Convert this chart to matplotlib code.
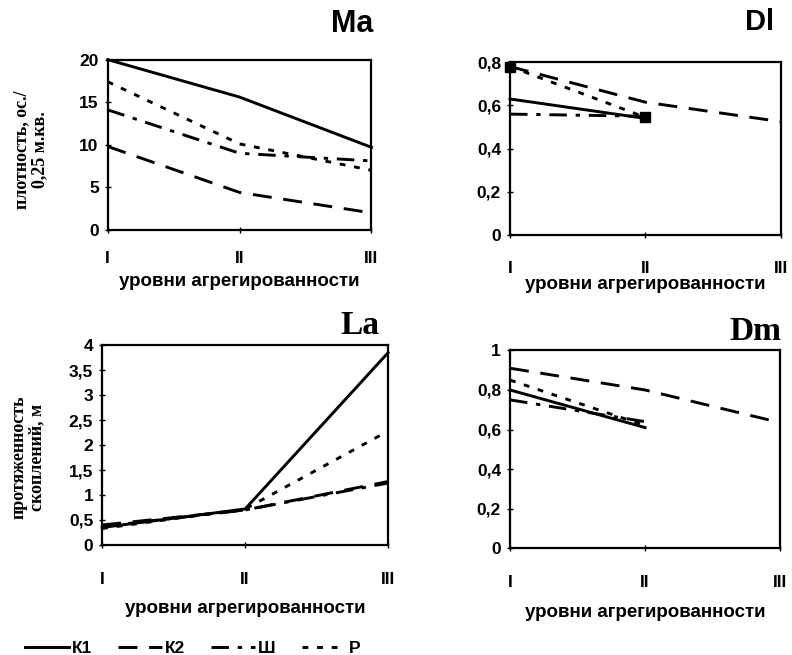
import matplotlib.pyplot as plt

levels = ["I", "II", "III"]
series = ["К1", "К2", "Ш", "Р"]

# Ma - плотность
ma_k1 = [20, 15.6, 9.7]
ma_k2 = [9.8, 4.4, 2.0]
ma_sh = [14.1, 9.0, 8.1]
ma_r = [17.4, 10.1, 7.0]

# Dl (Ш, Р, К1 только до II)
dl_k1 = [0.63, 0.54]
dl_k2 = [0.78, 0.615, 0.525]
dl_sh = [0.56, 0.55]
dl_r = [0.78, 0.545]

# La - протяженность скоплений
la_k1 = [0.35, 0.72, 3.85]
la_k2 = [0.40, 0.70, 1.27]
la_sh = [0.37, 0.70, 1.24]
la_r = [0.33, 0.72, 2.28]

# Dm
dm_k1 = [0.80, 0.61]
dm_k2 = [0.91, 0.80, 0.635]
dm_sh = [0.75, 0.64]
dm_r = [0.85, 0.62]

styles = {
    "К1": dict(color="black", lw=2.1, ls="-"),
    "К2": dict(color="black", lw=2.1, ls=(0, (6.5, 4))),
    "Ш": dict(color="black", lw=2.1, ls=(0, (6, 3, 1.5, 3))),
    "Р": dict(color="black", lw=2.1, ls=(0, (2, 3))),
}

sans = "Liberation Sans"
serif = "Liberation Serif"

fig = plt.figure(figsize=(7.92, 6.55), dpi=100)


def fmt(v):
    return ("%g" % round(v, 2)).replace(".", ",")


def setup(ax, ymax, ystep, xpad, labelpad):
    ax.set_xlim(0, 2)
    ax.set_ylim(0, ymax)
    ax.set_xticks(range(3))
    ax.set_xticklabels(levels, fontfamily=sans, fontweight="bold", fontsize=12.5)
    yt = [i * ystep for i in range(int(round(ymax / ystep)) + 1)]
    ax.set_yticks(yt)
    ax.set_yticklabels([fmt(v) for v in yt], fontfamily=sans, fontweight="bold", fontsize=12.5)
    ax.tick_params(axis="x", direction="inout", length=5, pad=xpad, width=1)
    ax.tick_params(axis="y", direction="inout", length=5, pad=4, width=1)
    for s in ax.spines.values():
        s.set_linewidth(1.6)
    ax.set_xlabel("уровни агрегированности", fontfamily=sans, fontweight="bold",
                  fontsize=13.5, labelpad=labelpad)


def plot_set(ax, data):
    for name, vals in zip(series, data):
        ax.plot(range(len(vals)), vals, label=name, clip_on=False, **styles[name])


ax1 = fig.add_axes([0.136, 0.649, 0.333, 0.26])
plot_set(ax1, [ma_k1, ma_k2, ma_sh, ma_r])
setup(ax1, 20, 5, 13, 5)
ax1.set_ylabel("плотность, ос./\n0,25 м.кв.", fontfamily=serif, fontweight="bold",
               fontsize=13, linespacing=1.05)
ax1.yaxis.set_label_coords(-0.225, 0.47)

ax2 = fig.add_axes([0.644, 0.641, 0.342, 0.264])
plot_set(ax2, [dl_k1, dl_k2, dl_sh, dl_r])
ax2.plot(range(len(dl_r)), dl_r, ls="none", marker="s", ms=7, color="black", clip_on=False)
setup(ax2, 0.8, 0.2, 16, 0)

ax3 = fig.add_axes([0.129, 0.168, 0.361, 0.305])
plot_set(ax3, [la_k1, la_k2, la_sh, la_r])
setup(ax3, 4, 0.5, 17, 9)
ax3.set_ylabel("протяженность\nскоплений, м", fontfamily=serif, fontweight="bold",
               fontsize=13, linespacing=1.05)
ax3.yaxis.set_label_coords(-0.2, 0.44)

ax4 = fig.add_axes([0.644, 0.163, 0.341, 0.302])
plot_set(ax4, [dm_k1, dm_k2, dm_sh, dm_r])
setup(ax4, 1, 0.2, 17, 10)

fig.text(352 / 792, 1 - 24 / 655, "Ma", fontfamily=sans, fontweight="bold", fontsize=22,
         ha="center", va="center")
fig.text(760 / 792, 1 - 22 / 655, "Dl", fontfamily=sans, fontweight="bold", fontsize=21,
         ha="center", va="center")
fig.text(360 / 792, 1 - 326 / 655, "La", fontfamily=serif, fontweight="bold", fontsize=24,
         ha="center", va="center")
fig.text(755 / 792, 1 - 331 / 655, "Dm", fontfamily=serif, fontweight="bold", fontsize=24,
         ha="center", va="center")

handles, labels = ax3.get_legend_handles_labels()
fig.legend(handles, labels, loc="lower left", bbox_to_anchor=(0.012, -0.025), ncol=4,
           frameon=False, handlelength=2.5, handletextpad=0.2, columnspacing=1.5,
           prop=dict(family=sans, weight="bold", size=12.5))

fig.savefig("out.png", dpi=100)
